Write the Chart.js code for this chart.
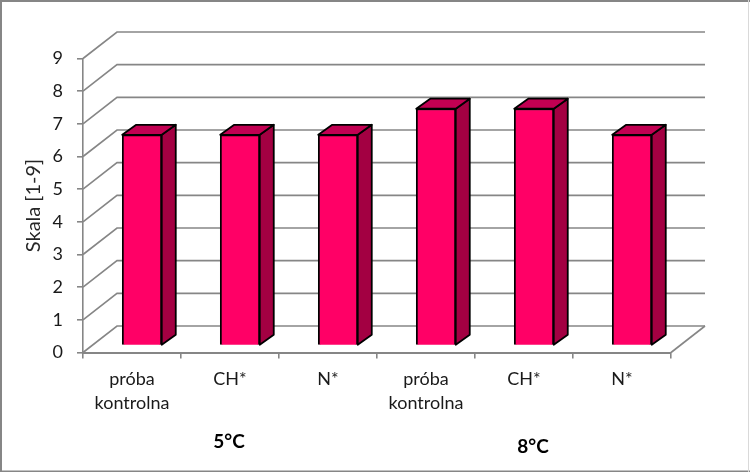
<!DOCTYPE html>
<html><head><meta charset="utf-8">
<script src="https://cdn.jsdelivr.net/npm/chart.js@4"></script>
<style>html,body{margin:0;padding:0;background:#fff}canvas{display:block}</style>
</head><body><canvas id="c" width="750" height="472"></canvas>
<script>
const categories = [["próba","kontrolna"],"CH*","N*",["próba","kontrolna"],"CH*","N*"];
const values = [6.45,6.45,6.45,7.25,7.25,6.45];
const yTicks = [0,1,2,3,4,5,6,7,8,9];
const groupLabels = [{text:"5°C",cat:1,dx:-1,y:442},{text:"8°C",cat:4,dx:9,y:447}];
const axisTitle = "Skala [1-9]";

const FONT = "Lato, 'Open Sans', sans-serif";
const GRAY = "#868686";
const WALL = {dx:34, dy:-26.5};     // floor depth
const BAR_OFF = {dx:10, dy:-7};     // bar plane inside the floor
const BAR_D = {dx:14, dy:-10};      // bar depth

const scene = {
  id:"scene",
  beforeDraw(ch){
    const c=ch.ctx; c.save();
    c.fillStyle="#fff"; c.fillRect(0,0,750,472);
    c.strokeStyle=GRAY; c.lineWidth=2;
    c.beginPath(); c.moveTo(1,472); c.lineTo(1,1); c.lineTo(750,1); c.stroke();
    c.lineWidth=1.5; c.beginPath(); c.moveTo(0,471.2); c.lineTo(750,471.2); c.stroke();
    c.strokeStyle="#d9d9d9"; c.lineWidth=1; c.beginPath(); c.moveTo(748.5,0); c.lineTo(748.5,472); c.stroke();
    c.restore();
  },
  beforeDatasetsDraw(ch){
    const c=ch.ctx, y=ch.scales.y, a=ch.chartArea;
    c.save(); c.strokeStyle=GRAY; c.lineWidth=1.6;
    yTicks.forEach(v=>{
      const p=y.getPixelForValue(v);
      c.beginPath(); c.moveTo(a.left,p); c.lineTo(a.left+WALL.dx,p+WALL.dy); c.lineTo(a.right+WALL.dx,p+WALL.dy); c.stroke();
    });
    const p0=y.getPixelForValue(0);
    c.beginPath(); c.moveTo(a.right,p0); c.lineTo(a.right+WALL.dx,p0+WALL.dy); c.stroke();
    c.restore();
    c.save(); c.translate(BAR_OFF.dx,BAR_OFF.dy);
  },
  afterDatasetsDraw(ch){
    const c=ch.ctx;
    ch.getDatasetMeta(0).data.forEach(b=>{
      const l=b.x-b.width/2, r=b.x+b.width/2, t=b.y, bt=b.base;
      c.lineWidth=1.8; c.strokeStyle="#000"; c.lineJoin="round";
      c.fillStyle="#A30042";
      c.beginPath(); c.moveTo(r,t); c.lineTo(r+BAR_D.dx,t+BAR_D.dy); c.lineTo(r+BAR_D.dx,bt+BAR_D.dy); c.lineTo(r,bt); c.closePath(); c.fill(); c.stroke();
      c.fillStyle="#C20052";
      c.beginPath(); c.moveTo(l,t); c.lineTo(l+BAR_D.dx,t+BAR_D.dy); c.lineTo(r+BAR_D.dx,t+BAR_D.dy); c.lineTo(r,t); c.closePath(); c.fill(); c.stroke();
    });
    c.restore();
    c.save(); c.fillStyle="#000"; c.font="bold 19px "+FONT; c.textAlign="center"; c.textBaseline="middle";
    groupLabels.forEach(g=>{ c.fillText(g.text, ch.scales.x.getPixelForValue(g.cat)+g.dx, g.y); });
    c.restore();
  }
};

new Chart(document.getElementById("c"),{
  type:"bar",
  data:{labels:categories,datasets:[{data:values,backgroundColor:"#FF0066",borderColor:"#000",borderWidth:1.8,barThickness:39.5}]},
  plugins:[scene],
  options:{
    responsive:false,animation:false,
    layout:{padding:{left:0,top:58.5,right:79,bottom:0}},
    plugins:{legend:{display:false},tooltip:{enabled:false}},
    scales:{
      x:{
        afterFit(s){s.height=119.5;},
        border:{color:GRAY,width:2},
        grid:{drawOnChartArea:false,drawTicks:true,tickLength:6,color:GRAY,lineWidth:1.6},
        ticks:{color:"#1a1a1a",padding:9,maxRotation:0,autoSkip:false,font:{family:FONT,size:18,lineHeight:1.33}}
      },
      y:{
        min:0,max:9,
        afterFit(s){s.width=83;},
        afterBuildTicks(s){s.ticks=yTicks.map(v=>({value:v}));},
        border:{color:GRAY,width:1.6},
        grid:{drawOnChartArea:false,drawTicks:true,tickLength:6,color:GRAY,lineWidth:1.6},
        title:{display:true,text:axisTitle,color:"#262626",padding:{top:22,bottom:0},font:{family:FONT,size:20}},
        ticks:{color:"#1a1a1a",padding:14,font:{family:FONT,size:18}}
      }
    }
  }
});
</script></body></html>
